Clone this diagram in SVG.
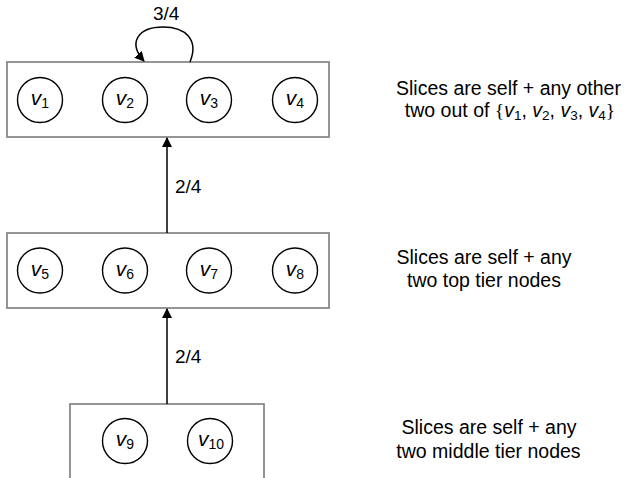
<svg xmlns="http://www.w3.org/2000/svg" width="627" height="478" viewBox="0 0 627 478">
<defs>
<marker id="ah" markerWidth="10" markerHeight="10" refX="9" refY="5" orient="auto" markerUnits="userSpaceOnUse">
<path d="M0,0 L10,5 L0,10 Z" fill="#000"/>
</marker>
<style>
.box{fill:#fff;stroke:#8a8a8a;stroke-width:1.8}
.nd{fill:#fff;stroke:#000;stroke-width:1.4}
.t{font-family:"Liberation Sans",Arial,sans-serif;fill:#000}
.nl{font-size:21px;text-anchor:middle}
.nsub{font-size:14px;font-style:normal}
.lbl{font-size:19px}
.desc{font-size:19.5px;text-anchor:middle}
.sub{font-size:13.5px;font-style:normal}
.conn{fill:none;stroke:#000;stroke-width:1.5}
</style>
</defs>
<rect width="627" height="478" fill="#fff"/>
<g id="tier-top">
<rect class="box" x="7" y="62" width="322" height="75"/>
</g>
<g id="tier-middle">
<rect class="box" x="7" y="233" width="322" height="75"/>
</g>
<g id="tier-bottom">
<rect class="box" x="70" y="404" width="194" height="90"/>
</g>
<g id="v1"><circle class="nd" cx="40" cy="100" r="22.5"/><text class="t nl" x="40" y="105"><tspan font-style="italic">v</tspan><tspan class="nsub" dy="3">1</tspan></text></g>
<g id="v2"><circle class="nd" cx="125" cy="100" r="22.5"/><text class="t nl" x="125" y="105"><tspan font-style="italic">v</tspan><tspan class="nsub" dy="3">2</tspan></text></g>
<g id="v3"><circle class="nd" cx="209" cy="100" r="22.5"/><text class="t nl" x="209" y="105"><tspan font-style="italic">v</tspan><tspan class="nsub" dy="3">3</tspan></text></g>
<g id="v4"><circle class="nd" cx="295" cy="100" r="22.5"/><text class="t nl" x="295" y="105"><tspan font-style="italic">v</tspan><tspan class="nsub" dy="3">4</tspan></text></g>
<g id="v5"><circle class="nd" cx="40" cy="270.5" r="22.5"/><text class="t nl" x="40" y="275.5"><tspan font-style="italic">v</tspan><tspan class="nsub" dy="3">5</tspan></text></g>
<g id="v6"><circle class="nd" cx="125" cy="270.5" r="22.5"/><text class="t nl" x="125" y="275.5"><tspan font-style="italic">v</tspan><tspan class="nsub" dy="3">6</tspan></text></g>
<g id="v7"><circle class="nd" cx="209" cy="270.5" r="22.5"/><text class="t nl" x="209" y="275.5"><tspan font-style="italic">v</tspan><tspan class="nsub" dy="3">7</tspan></text></g>
<g id="v8"><circle class="nd" cx="295" cy="270.5" r="22.5"/><text class="t nl" x="295" y="275.5"><tspan font-style="italic">v</tspan><tspan class="nsub" dy="3">8</tspan></text></g>
<g id="v9"><circle class="nd" cx="125" cy="441" r="22.5"/><text class="t nl" x="125" y="446"><tspan font-style="italic">v</tspan><tspan class="nsub" dy="3">9</tspan></text></g>
<g id="v10"><circle class="nd" cx="210" cy="441" r="22.5"/><text class="t nl" x="211" y="446"><tspan font-style="italic">v</tspan><tspan class="nsub" dy="3">10</tspan></text></g>
<g id="connectors">
<path class="conn" d="M190,62 C199,40 186,27 163,27 C139,27 127,42 144,61" marker-end="url(#ah)"/>
<line class="conn" x1="167" y1="233" x2="167" y2="138" marker-end="url(#ah)"/>
<line class="conn" x1="167" y1="404" x2="167" y2="309" marker-end="url(#ah)"/>
<text class="t lbl" x="153" y="20">3/4</text>
<text class="t lbl" x="175" y="193">2/4</text>
<text class="t lbl" x="175" y="363">2/4</text>
</g>
<g id="notes">
<text class="t desc" x="508.5" y="95">Slices are self + any other</text>
<text class="t desc" x="510" y="117">two out of <tspan font-family="'Liberation Serif',serif">{</tspan><tspan font-style="italic">v</tspan><tspan class="sub" dy="3">1</tspan><tspan dy="-3">, </tspan><tspan font-style="italic">v</tspan><tspan class="sub" dy="3">2</tspan><tspan dy="-3">, </tspan><tspan font-style="italic">v</tspan><tspan class="sub" dy="3">3</tspan><tspan dy="-3">, </tspan><tspan font-style="italic">v</tspan><tspan class="sub" dy="3">4</tspan><tspan dy="-3" font-family="'Liberation Serif',serif">}</tspan></text>
<text class="t desc" x="484" y="263.5">Slices are self + any</text>
<text class="t desc" x="484" y="287">two top tier nodes</text>
<text class="t desc" x="489" y="434">Slices are self + any</text>
<text class="t desc" x="488.5" y="458">two middle tier nodes</text>
</g>
</svg>
